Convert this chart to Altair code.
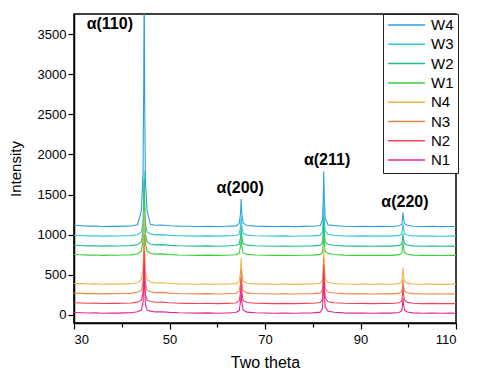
import altair as alt
import pandas as pd

two_theta = [30, 31.5, 33, 34.5, 36, 37.5, 39, 40.5, 42, 43.3,
             44.1, 44.45, 44.6, 44.7, 44.8, 44.95, 45.3, 46.0, 47.0, 48.5,
             50, 52, 54, 56, 58, 60, 62, 63.9, 64.6, 64.9,
             65.0, 65.1, 65.4, 66.2, 68, 70, 72, 74, 76, 78,
             80, 81.6, 82.05, 82.2, 82.3, 82.4, 82.6, 83.2, 84.5, 86.5,
             88.5, 90.5, 92.5, 94.5, 96.5, 98.1, 98.65, 98.8, 98.9, 99.0,
             99.2, 99.8, 101, 103, 105, 107, 109, 110]

W4 = [1118, 1112, 1107, 1109, 1103, 1106, 1104, 1107, 1109, 1125,
      1297, 1745, 2865, 4300, 2705, 1681, 1297, 1130, 1118, 1121,
      1112, 1107, 1105, 1103, 1106, 1102, 1105, 1110, 1139, 1275,
      1445, 1292, 1146, 1115, 1107, 1104, 1102, 1105, 1101, 1104,
      1106, 1115, 1187, 1448, 1790, 1482, 1208, 1125, 1113, 1106,
      1103, 1105, 1102, 1104, 1103, 1112, 1131, 1201, 1280, 1210,
      1140, 1117, 1106, 1102, 1104, 1101, 1103, 1102]
W3 = [993, 990, 986, 988, 983, 986, 984, 987, 989, 1002,
      1034, 1148, 1433, 1800, 1393, 1132, 1034, 1010, 998, 1001,
      992, 987, 985, 983, 986, 982, 985, 990, 1010, 1108,
      1230, 1120, 1014, 995, 987, 984, 982, 985, 981, 984,
      986, 995, 1035, 1193, 1400, 1213, 1047, 1005, 993, 986,
      983, 985, 982, 984, 983, 992, 1008, 1070, 1140, 1078,
      1016, 997, 986, 982, 984, 981, 983, 982]
W2 = [868, 865, 861, 863, 858, 861, 859, 862, 864, 877,
      910, 1028, 1322, 1700, 1280, 1011, 910, 885, 873, 876,
      867, 862, 860, 858, 861, 857, 860, 865, 884, 980,
      1100, 992, 889, 870, 862, 859, 857, 860, 856, 859,
      861, 870, 901, 1030, 1200, 1047, 911, 880, 868, 861,
      858, 860, 857, 859, 858, 867, 883, 943, 1010, 950,
      890, 872, 861, 857, 859, 856, 858, 857]
W1 = [753, 750, 746, 748, 743, 746, 744, 747, 749, 762,
      796, 916, 1215, 1600, 1173, 899, 796, 770, 758, 761,
      752, 747, 745, 743, 746, 742, 745, 750, 769, 863,
      980, 874, 773, 755, 747, 744, 742, 745, 741, 744,
      746, 755, 782, 898, 1050, 913, 791, 765, 753, 746,
      743, 745, 742, 744, 743, 752, 770, 836, 910, 844,
      778, 757, 746, 742, 744, 741, 743, 742]
N4 = [393, 390, 386, 388, 383, 386, 384, 387, 389, 402,
      440, 568, 888, 1300, 843, 550, 440, 410, 398, 401,
      392, 387, 385, 383, 386, 382, 385, 390, 418, 548,
      710, 564, 424, 395, 387, 384, 382, 385, 381, 384,
      386, 395, 437, 603, 820, 624, 450, 405, 393, 386,
      383, 385, 382, 384, 383, 392, 415, 495, 585, 505,
      425, 397, 386, 382, 384, 381, 383, 382]
N3 = [272, 269, 266, 268, 263, 266, 264, 267, 269, 282,
      309, 412, 669, 1000, 633, 397, 309, 290, 278, 281,
      272, 267, 265, 263, 266, 262, 265, 270, 296, 418,
      570, 433, 302, 275, 267, 264, 262, 265, 261, 264,
      266, 275, 320, 493, 720, 515, 333, 285, 273, 266,
      263, 265, 262, 264, 263, 272, 291, 361, 440, 370,
      300, 277, 266, 262, 264, 261, 263, 262]
N2 = [152, 149, 146, 148, 143, 146, 144, 147, 149, 160,
      184, 276, 505, 800, 473, 263, 184, 168, 158, 160,
      152, 147, 145, 143, 146, 142, 145, 150, 176, 298,
      450, 313, 182, 155, 147, 144, 142, 145, 141, 144,
      146, 155, 202, 383, 620, 406, 216, 165, 153, 146,
      143, 145, 142, 144, 143, 152, 176, 258, 350, 268,
      186, 157, 146, 142, 144, 141, 143, 142]
N1 = [30, 28, 24, 27, 22, 25, 23, 26, 28, 40,
      62, 150, 369, 650, 337, 137, 63, 48, 38, 40,
      32, 27, 25, 23, 26, 22, 25, 30, 55, 177,
      330, 193, 62, 35, 27, 24, 22, 25, 21, 24,
      26, 35, 84, 273, 520, 297, 99, 45, 33, 26,
      23, 25, 22, 24, 23, 31, 53, 127, 210, 136,
      62, 37, 26, 22, 24, 21, 23, 22]

series_names = ["W4", "W3", "W2", "W1", "N4", "N3", "N2", "N1"]
series_values = [W4, W3, W2, W1, N4, N3, N2, N1]
series_colors = ["#2E9FE3", "#33C6DC", "#1DBF8F", "#3CCF3C",
                 "#EDB443", "#EF8646", "#EE4456", "#E8239A"]

peak_labels = ["α(110)", "α(200)", "α(211)", "α(220)"]
peak_label_x = [37.5, 64.8, 83.0, 99.3]
peak_label_y = [3620, 1580, 1930, 1405]

rows = []
for order, (name, vals) in enumerate(zip(series_names, series_values)):
    for x, y in zip(two_theta, vals):
        rows.append({"series": name, "x": x, "y": y, "order": order})
df = pd.DataFrame(rows)

labels_df = pd.DataFrame({"text": peak_labels, "x": peak_label_x, "y": peak_label_y})

FONT = "Liberation Sans"

x_scale = alt.Scale(domain=[30, 110], nice=False, zero=False)
y_scale = alt.Scale(domain=[-100, 3750], nice=False, zero=False)

lines = alt.Chart(df).mark_line(strokeWidth=1.1, clip=True).encode(
    x=alt.X("x:Q", scale=x_scale, title="Two theta",
            axis=alt.Axis(values=list(range(30, 111, 10)),
                          labelExpr="(datum.value - 30) % 20 == 0 ? datum.label : ''",
                          tickSize={"condition": {"test": "(datum.value - 30) % 20 == 0", "value": 6}, "value": 4},
                          labelFontSize=13, titleFontSize=16, labelPadding=4,
                          titlePadding=8, grid=False,
                          labelFont=FONT, titleFont=FONT, titleFontWeight="normal",
                          labelColor="black", titleColor="black")),
    y=alt.Y("y:Q", scale=y_scale, title="Intensity",
            axis=alt.Axis(values=list(range(0, 3501, 250)),
                          labelExpr="datum.value % 500 == 0 ? datum.label : ''",
                          tickSize={"condition": {"test": "datum.value % 500 == 0", "value": 6}, "value": 4},
                          labelFontSize=13, titleFontSize=15, labelPadding=2,
                          titlePadding=14, grid=False, format="d",
                          labelFont=FONT, titleFont=FONT, titleFontWeight="normal",
                          labelColor="black", titleColor="black")),
    color=alt.Color("series:N",
                    scale=alt.Scale(domain=series_names, range=series_colors),
                    legend=alt.Legend(title=None, orient="none", legendX=309, legendY=0,
                                      symbolType="stroke", symbolSize=1369,
                                      symbolStrokeWidth=1.5, clipHeight=14,
                                      rowPadding=4.3, padding=4,
                                      labelFontSize=15, labelFont=FONT,
                                      labelColor="black",
                                      labelOffset=5, strokeColor="#222",
                                      fillColor="white")),
    detail="series:N",
    order="order:Q",
)

texts = alt.Chart(labels_df).mark_text(font=FONT, fontSize=16, fontWeight="bold",
                                       color="black", align="center", baseline="middle").encode(
    x=alt.X("x:Q", scale=x_scale),
    y=alt.Y("y:Q", scale=y_scale),
    text="text:N",
)

chart = alt.layer(lines, texts).properties(
    width=382, height=309,
    background="white",
    autosize=alt.AutoSizeParams(type="none"),
    padding={"left": 74, "top": 14, "right": 21, "bottom": 52},
).configure_view(stroke="black", strokeWidth=1.5).configure_axis(
    domainColor="black", domainWidth=1.5, tickColor="black", tickWidth=1.2,
)

chart.save("out.html", embed_options={"renderer": "svg", "actions": False})
